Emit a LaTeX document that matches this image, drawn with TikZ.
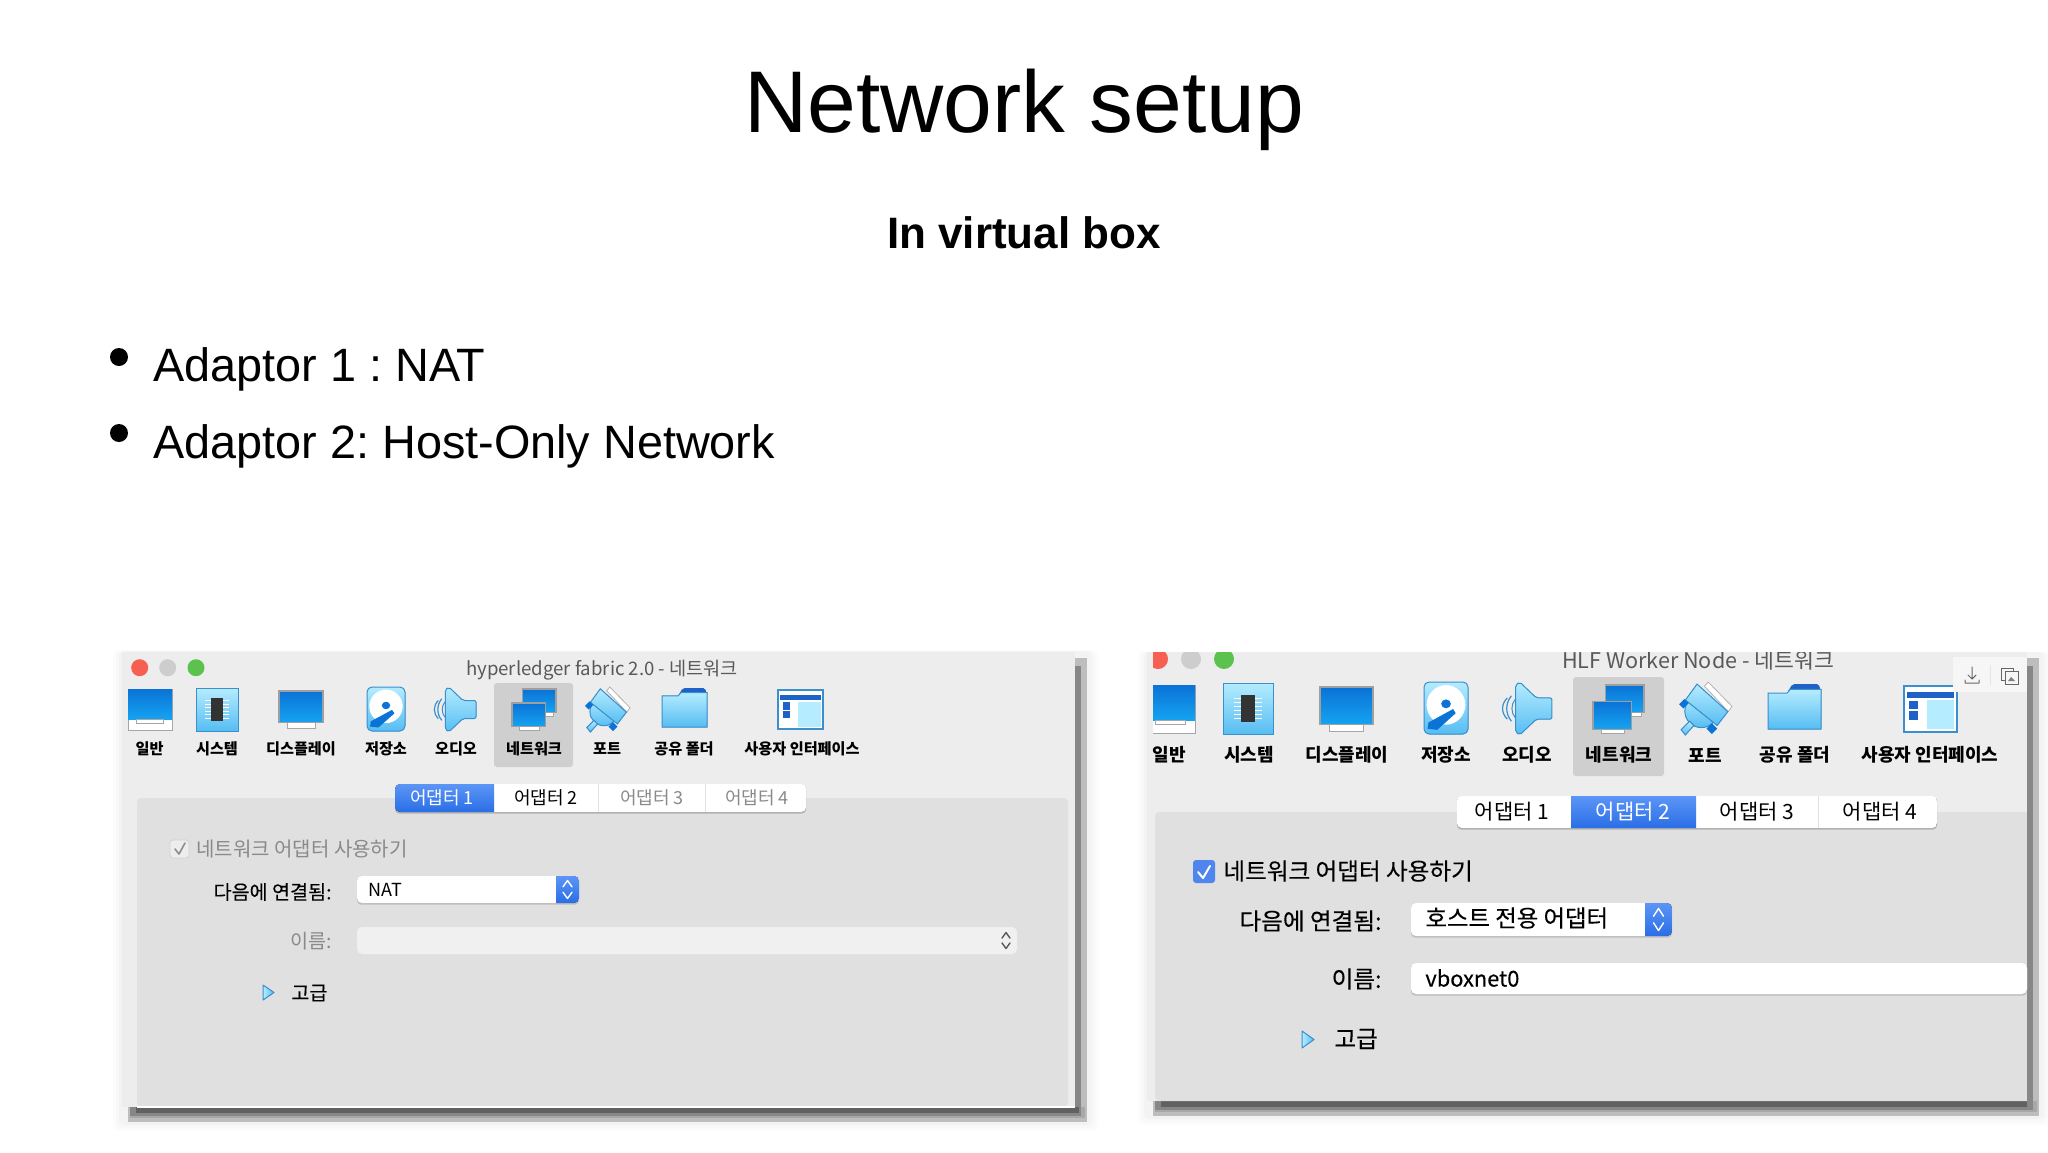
\documentclass[tikz,border=0pt]{standalone}
\usepackage{fontspec}
\setmainfont{Liberation Sans}
\newfontfamily\krf{Noto Sans CJK KR}
\newfontfamily\krm[FakeBold=0.25]{Noto Sans CJK KR}
\usetikzlibrary{calc}
\definecolor{winbg}{HTML}{EDEDED}
\definecolor{panelbg}{HTML}{E0E0E0}
\definecolor{hilite}{HTML}{CFCFCF}
\definecolor{bluedark}{HTML}{0B72D6}
\definecolor{bluelight}{HTML}{14A4F2}
\definecolor{skyA}{HTML}{B5ECFF}
\definecolor{skyB}{HTML}{56BDF2}
\definecolor{edgeblue}{HTML}{3A8FCE}
\definecolor{tabA}{HTML}{5C95F6}
\definecolor{tabB}{HTML}{2A6EE6}
\definecolor{greytext}{HTML}{8A8A8A}
\definecolor{navyblue}{HTML}{1E62C8}
\definecolor{reddot}{HTML}{F65F52}
\definecolor{greendot}{HTML}{5CC24E}
\definecolor{greydot}{HTML}{CDCDCD}
\definecolor{fieldgrey}{HTML}{F0F0F0}
\definecolor{checkblue}{HTML}{4F86EE}
\definecolor{toolbarbg}{HTML}{F6F6F6}
\tikzset{
  slidetext/.style={inner sep=0pt,text=black},
  krtext/.style={inner sep=0pt,text=black,font=\krf\fontsize{#1}{#1}\selectfont},
  krmed/.style={inner sep=0pt,text=black,font=\krm\fontsize{#1}{#1}\selectfont},
  krbold/.style={inner sep=0pt,text=black,font=\krf\bfseries\fontsize{#1}{#1}\selectfont},
  screenfill/.style={top color=bluedark,bottom color=bluelight,draw=gray!75,line width=.6pt},
  skyfill/.style={top color=skyA,bottom color=skyB,draw=edgeblue,line width=.5pt},
  tabblue/.style={top color=tabA,bottom color=tabB},
}
\newcommand{\iconscope}[5]{\begin{scope}[shift={(#1,#2)},xscale=#3,yscale=#4]#5\end{scope}}
\newcommand{\icongeneral}[4]{\iconscope{#1}{#2}{#3}{#4}{
  \fill[white,draw=gray!70,line width=.5pt] (0,0) rectangle (1,1);
  \fill[top color=bluedark,bottom color=bluelight] (0,0) rectangle (1,.74);
  \fill[white,draw=gray!70,line width=.4pt] (.2,.74) rectangle (.8,.83);}}
\newcommand{\iconsystem}[4]{\iconscope{#1}{#2}{#3}{#4}{
  \fill[skyfill] (0,0) rectangle (1,1);
  \foreach \yy in {.3,.38,.46,.54,.62,.7}{\draw[white,line width=.5pt] (.22,\yy) -- (.78,\yy);}
  \fill[black!80] (.36,.24) rectangle (.64,.76);}}
\newcommand{\icondisplay}[4]{\iconscope{#1}{#2}{#3}{#4}{
  \fill[white,draw=gray!70,line width=.4pt] (.18,.8) rectangle (.82,1);
  \fill[screenfill] (0,0) rectangle (1,.86);}}
\newcommand{\iconstorage}[4]{\iconscope{#1}{#2}{#3}{#4}{
  \fill[skyfill,rounded corners=2.5pt] (0,0) rectangle (1,1);
  \fill[white] (.5,.44) ellipse (.44 and .38);
  \fill[bluedark] (.5,.42) ellipse (.11 and .085);
  \fill[bluedark] (.08,.9) -- (.1,.78) -- (.66,.52) -- (.72,.6) -- (.3,.92) -- cycle;}}
\newcommand{\iconaudio}[4]{\iconscope{#1}{#2}{#3}{#4}{
  \fill[skyfill,rounded corners=1pt] (.28,.06) -- (.36,0) -- (.68,.3) -- (.98,.3) -- (.98,.7) -- (.68,.7) -- (.36,1) -- (.28,.94) -- cycle;
  \draw[edgeblue,line width=.6pt] (.2,.26) .. controls (.08,.4) and (.08,.6) .. (.2,.74);
  \draw[edgeblue,line width=.6pt] (.12,.3) .. controls (.0,.42) and (.0,.58) .. (.12,.7);
  \draw[edgeblue,line width=.5pt] (.27,.33) .. controls (.19,.43) and (.19,.57) .. (.27,.67);}}
\newcommand{\iconnetwork}[4]{\iconscope{#1}{#2}{#3}{#4}{
  \fill[white,draw=gray!70,line width=.4pt] (.55,.5) rectangle (.95,.66);
  \fill[screenfill] (.24,0) rectangle (1,.58);
  \fill[white,draw=gray!70,line width=.4pt] (.16,.86) rectangle (.62,1);
  \fill[screenfill] (0,.34) rectangle (.76,.92);}}
\newcommand{\iconport}[4]{\iconscope{#1}{#2}{#3}{#4}{
  \fill[white,draw=gray!60,line width=.4pt] (.55,0) -- (1,.46) -- (.93,.56) -- (.48,.08) -- cycle;
  \fill[skyfill] (.42,.55) circle[radius=.31];
  \fill[skyfill] (.12,.34) -- (.34,.04) -- (.92,.56) -- (.72,.82) -- cycle;
  \fill[skyfill] (.04,.9) -- (.2,.74) -- (.28,.82) -- (.12,1) -- cycle;
  \fill[bluedark] (0,.42) -- (.1,.32) -- (.18,.4) -- (.08,.5) -- cycle;
  \fill[bluedark] (.52,.88) -- (.62,.78) -- (.72,.88) -- (.62,.98) -- cycle;}}
\newcommand{\iconfolder}[4]{\iconscope{#1}{#2}{#3}{#4}{
  \fill[navyblue,rounded corners=1pt] (.36,.2) -- (.46,0) -- (.96,0) -- (1,.2) -- cycle;
  \fill[skyfill] (0,.2) -- (.36,.2) -- (.42,.12) -- (1,.12) -- (1,1) -- (0,1) -- cycle;}}
\newcommand{\iconui}[4]{\iconscope{#1}{#2}{#3}{#4}{
  \fill[white,draw=edgeblue,line width=.8pt] (0,0) rectangle (1,1);
  \fill[navyblue] (.05,.12) rectangle (.95,.26);
  \fill[skyA] (.44,.3) rectangle (.95,.94);
  \fill[navyblue] (.1,.32) rectangle (.27,.5);
  \fill[navyblue] (.1,.55) rectangle (.27,.73);}}
\newcommand{\chevrons}[5]{
  \draw[#5,line width=.7pt,line cap=round,line join=round] ({#1-#3},{#2-#4*.3}) -- (#1,{#2-#4}) -- ({#1+#3},{#2-#4*.3});
  \draw[#5,line width=.7pt,line cap=round,line join=round] ({#1-#3},{#2+#4*.3}) -- (#1,{#2+#4}) -- ({#1+#3},{#2+#4*.3});}
\newcommand{\winshadow}[4]{
  \foreach \g/\o in {9/.012,6/.016,3/.02}{
    \fill[black,opacity=\o,rounded corners=3pt] ({#1-\g},{#2-\g*.2}) rectangle ({#3+14+\g},{#4+15+\g});}
  \fill[black!26] ({#1+6},{#2+6}) rectangle ({#3+12},{#4+15});
  \fill[black!34] ({#1+8},{#4}) rectangle ({#3+10},{#4+11});
  \fill[black!47] ({#3},{#2+14}) rectangle ({#3+6},{#4+9});
  \fill[black!47] ({#1+8},{#4}) rectangle ({#3+6},{#4+9});
  \fill[black!62] ({#1+14},{#4}) rectangle ({#3+4},{#4+6});}
\newcommand{\triangleicon}[4]{
  \fill[left color=skyA,right color=skyB,draw=edgeblue,line width=.5pt,line join=round] (#1,#3) -- (#2,{(#3+#4)/2}) -- (#1,#4) -- cycle;}
\begin{document}
\frenchspacing
\begin{tikzpicture}[x=.5pt,y=-.5pt]
\useasboundingbox (0,0) rectangle (2048,1152);
\fill[white] (0,0) rectangle (2048,1152);
% ---------- slide text
\node[slidetext,font=\fontsize{43.8}{50}\selectfont] (title) at (1024,110) {Network setup};
\node[slidetext,font=\bfseries\fontsize{22}{26}\selectfont] (subtitle) at (1024,233) {In virtual box};
\fill[black] (119,357) circle[radius=9];
\fill[black] (119,433) circle[radius=9];
\node[slidetext,anchor=base west,font=\fontsize{23.4}{28}\selectfont] (bullet1) at (153,381) {Adaptor 1 : NAT};
\node[slidetext,anchor=base west,font=\fontsize{23.4}{28}\selectfont] (bullet2) at (153,458) {Adaptor 2: Host-Only Network};
% ---------- window 1
\winshadow{122}{652}{1075}{1107}
\fill[winbg] (122,652) rectangle (1075,1107);
\fill[panelbg,rounded corners=2pt] (137,798) -- (1068,798) -- (1068,1107) -- (137,1107) -- cycle;
\fill[white] (137,1106) rectangle (1075,1107.5);
\fill[hilite,rounded corners=1.5pt] (494,683) rectangle (573,767);
\fill[reddot] (139.7,667.7) circle[radius=8.5];
\fill[greydot] (167.7,667.7) circle[radius=8.5];
\fill[greendot] (196,667.7) circle[radius=8.5];
\node[krtext=9.3,text=black!65] (w1title) at (602,670) {hyperledger fabric 2.0 - 네트워크};
\icongeneral{128}{689}{44}{41}
\iconsystem{196}{688}{42}{43}
\icondisplay{279}{691}{44}{37}
\iconstorage{367}{687}{38}{44}
\iconaudio{433}{687}{44}{45}
\iconnetwork{512}{689}{44}{41}
\iconport{585}{687}{45}{45}
\iconfolder{662}{688}{45}{39}
\iconui{778}{690}{45}{39}
\node[krbold=7.6] (w1l1) at (149.5,749) {일반};
\node[krbold=7.6] (w1l2) at (217,749) {시스템};
\node[krbold=7.6] (w1l3) at (301,749) {디스플레이};
\node[krbold=7.6] (w1l4) at (386,749) {저장소};
\node[krbold=7.6] (w1l5) at (456,749) {오디오};
\node[krbold=7.6] (w1l6) at (534,749) {네트워크};
\node[krbold=7.6] (w1l7) at (607,749) {포트};
\node[krbold=7.6] (w1l8) at (684,749) {공유 폴더};
\node[krbold=7.6] (w1l9) at (802,749) {사용자 인터페이스};
% tabs
\fill[black!30,rounded corners=2pt] (395,785) rectangle (806,813.5);
\begin{scope}
  \clip[rounded corners=2.5pt] (395,784) rectangle (806,812);
  \fill[white] (395,784) rectangle (806,812);
  \fill[tabblue] (395,784) rectangle (494,812);
  \draw[black!12,line width=.4pt] (598,784) -- (598,812);
  \draw[black!12,line width=.4pt] (705,784) -- (705,812);
\end{scope}
\node[krtext=9,text=white] (w1t1) at (442,798) {어댑터 1};
\node[krtext=9] (w1t2) at (546,798) {어댑터 2};
\node[krtext=9,text=greytext] (w1t3) at (652,798) {어댑터 3};
\node[krtext=9,text=greytext] (w1t4) at (757,798) {어댑터 4};
% form
\fill[winbg,draw=black!18,line width=.4pt,rounded corners=1.5pt] (170,840) rectangle (189,858);
\draw[black!45,line width=.8pt,line cap=round,line join=round] (175,849) -- (179,854) -- (185,843);
\node[krtext=10,anchor=west,text=greytext] (w1chk) at (196,849) {네트워크 어댑터 사용하기};
\node[krmed=9.8,anchor=east] (w1conn) at (332,892) {다음에 연결됨:};
\fill[black!25,rounded corners=2pt] (357,877) rectangle (579,904.5);
\begin{scope}
  \clip[rounded corners=2.5pt] (357,876) rectangle (579,903);
  \fill[white] (357,876) rectangle (579,903);
  \fill[tabblue] (556,876) rectangle (579,903);
\end{scope}
\chevrons{567.5}{889.5}{4.5}{9}{white}
\node[krtext=9,anchor=west] (w1nat) at (368,890) {NAT};
\node[krtext=9.8,anchor=east,text=greytext] (w1name) at (332,941) {이름:};
\fill[fieldgrey,rounded corners=2.5pt] (357,927) rectangle (1017,954);
\chevrons{1006}{940.5}{4}{8}{black!65}
\triangleicon{263}{274}{985}{1000}
\node[krmed=9.8,anchor=west] (w1adv) at (291,993) {고급};
% ---------- window 2
\begin{scope}
\clip (1130,652) rectangle (2048,1152);
\winshadow{1147}{652}{2027}{1101}
\fill[winbg] (1147,640) rectangle (2027,1101);
\fill[panelbg,rounded corners=2pt] (1155,812) -- (2032,812) -- (2032,1101) -- (1155,1101) -- cycle;
\fill[black!47] (2027,812) rectangle (2033,1108);
\fill[hilite,rounded corners=1.5pt] (1573,677) rectangle (1664,776);
\fill[reddot] (1158,659) circle[radius=10];
\fill[greydot] (1191,659) circle[radius=10];
\fill[greendot] (1224,659) circle[radius=10];
\fill[winbg] (1147,640) rectangle (1153,690);
\node[krtext=10.8,text=black!65] (w2title) at (1698,660) {HLF Worker Node - 네트워크};
\begin{scope}
  \clip (1153,640) rectangle (2027,800);
  \icongeneral{1145}{685}{50}{48}
\end{scope}
\iconsystem{1223}{683}{50}{51}
\icondisplay{1320}{687}{53}{44}
\iconstorage{1424}{682}{44}{52}
\iconaudio{1501}{682}{52}{53}
\iconnetwork{1593}{685}{51}{48}
\iconport{1679}{682}{53}{53}
\iconfolder{1768}{684}{53}{45}
\iconui{1904}{686}{53}{46}
\node[krbold=9] (w2l1) at (1169,755) {일반};
\node[krbold=9] (w2l2) at (1249,755) {시스템};
\node[krbold=9] (w2l3) at (1347,755) {디스플레이};
\node[krbold=9] (w2l4) at (1446,755) {저장소};
\node[krbold=9] (w2l5) at (1527,755) {오디오};
\node[krbold=9] (w2l6) at (1619,755) {네트워크};
\node[krbold=9] (w2l7) at (1705,755) {포트};
\node[krbold=9] (w2l8) at (1795,755) {공유 폴더};
\node[krbold=9] (w2l9) at (1930,755) {사용자 인터페이스};
% tabs
\fill[black!30,rounded corners=2pt] (1457,797) rectangle (1937,829.5);
\begin{scope}
  \clip[rounded corners=2.5pt] (1457,796) rectangle (1937,828);
  \fill[white] (1457,796) rectangle (1937,828);
  \fill[tabblue] (1571,796) rectangle (1696,828);
  \draw[black!12,line width=.4pt] (1818,796) -- (1818,828);
\end{scope}
\node[krtext=10.5] (w2t1) at (1512,812) {어댑터 1};
\node[krtext=10.5,text=white] (w2t2) at (1633,812) {어댑터 2};
\node[krtext=10.5] (w2t3) at (1757,812) {어댑터 3};
\node[krtext=10.5] (w2t4) at (1880,812) {어댑터 4};
% form
\fill[checkblue,rounded corners=1.5pt] (1193,860) rectangle (1215,883);
\draw[white,line width=1pt,line cap=round,line join=round] (1198,872) -- (1203,878) -- (1210,866);
\node[krmed=11.8,anchor=west] (w2chk) at (1223,871) {네트워크 어댑터 사용하기};
\node[krmed=11.8,anchor=east] (w2conn) at (1382,921) {다음에 연결됨:};
\fill[black!25,rounded corners=2pt] (1411,904) rectangle (1672,937.5);
\begin{scope}
  \clip[rounded corners=2.5pt] (1411,903) rectangle (1672,936);
  \fill[white] (1411,903) rectangle (1672,936);
  \fill[tabblue] (1645,903) rectangle (1672,936);
\end{scope}
\chevrons{1658.5}{919.5}{5}{11}{white}
\node[krmed=11.7,anchor=west] (w2host) at (1425,918) {호스트 전용 어댑터};
\node[krmed=11.8,anchor=east] (w2name) at (1382,979) {이름:};
\fill[black!25,rounded corners=2pt] (1411,964) rectangle (2027,995.5);
\fill[white,rounded corners=2.5pt] (1411,963) rectangle (2027,994);
\node[krmed=10.9,anchor=west] (w2vbox) at (1425,978) {vboxnet0};
\triangleicon{1302}{1314}{1031}{1048}
\node[krmed=11.8,anchor=west] (w2adv) at (1334,1039) {고급};
% white overlay toolbar
\fill[toolbarbg] (1953,657) rectangle (2027,692);
\draw[black!10,line width=.4pt] (1990,665) -- (1990,685);
\draw[black!60,line width=.5pt,line cap=round,line join=round] (1972,667) -- (1972,679) (1968,675) -- (1972,679) -- (1976,675) (1965,680) -- (1965,683) -- (1979,683) -- (1979,680);
\draw[black!60,line width=.5pt] (2001,668) rectangle (2013,680);
\fill[toolbarbg,draw=black!60,line width=.5pt] (2005,671) rectangle (2018,684);
\fill[black!50] (2008,681) -- (2011,677) -- (2015,681) -- cycle;
\end{scope}
\end{tikzpicture}
\end{document}
